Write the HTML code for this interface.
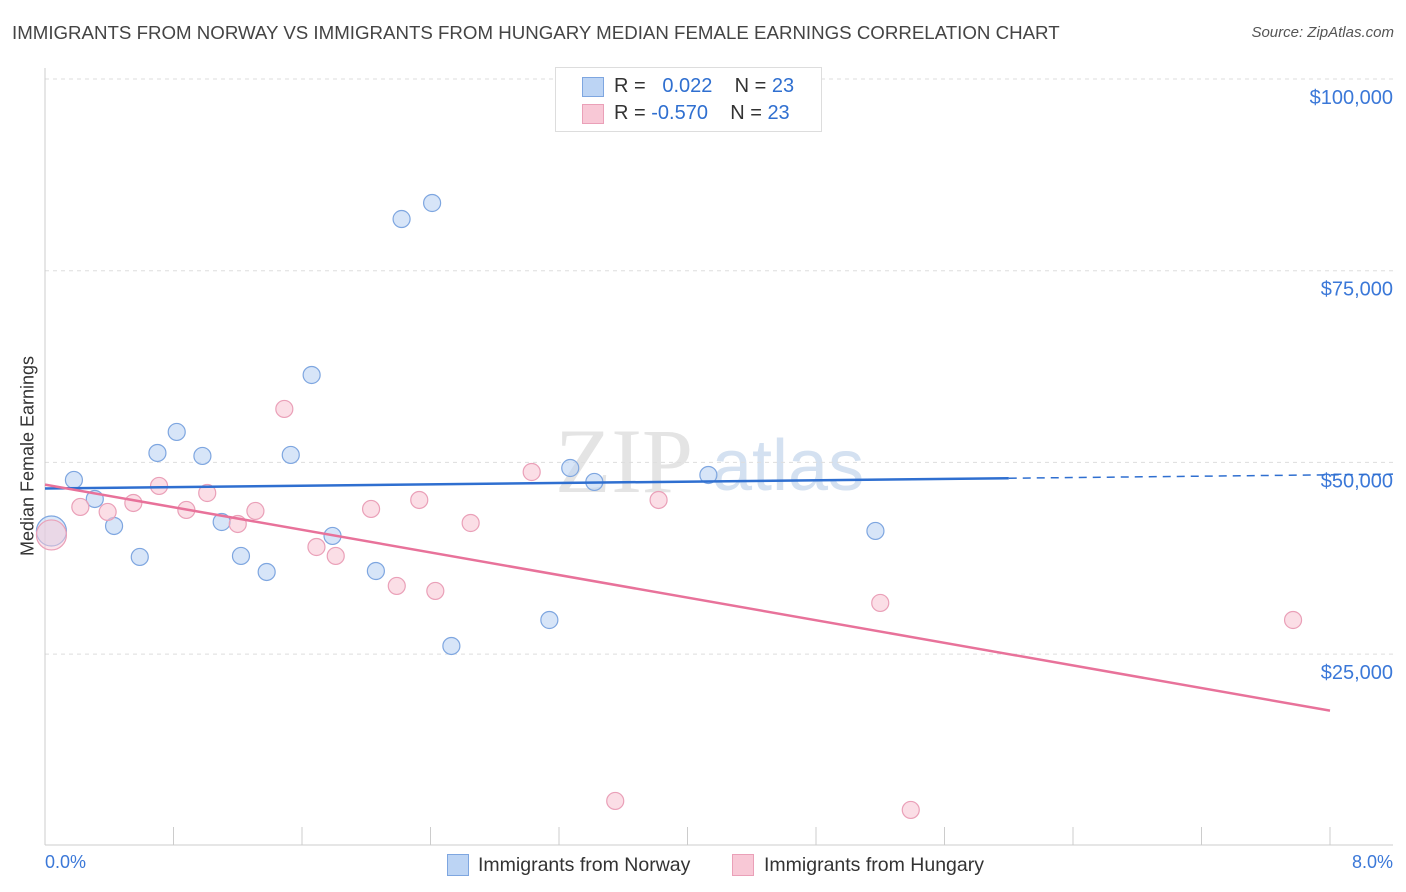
<!DOCTYPE html>
<html><head><meta charset="utf-8">
<style>
body{margin:0;background:#fff;font-family:"Liberation Sans",sans-serif;}
#wrap{position:relative;width:1406px;height:892px;overflow:hidden;}
.t{position:absolute;white-space:nowrap;}
</style></head>
<body>
<div id="wrap">
<div class="t" style="left:12px;top:22px;font-size:18.7px;color:#444;">IMMIGRANTS FROM NORWAY VS IMMIGRANTS FROM HUNGARY MEDIAN FEMALE EARNINGS CORRELATION CHART</div>
<div class="t" style="right:12px;top:24px;font-size:15px;color:#555;font-style:italic;">Source: ZipAtlas.com</div>
<svg id="svg" width="1406" height="892" style="position:absolute;left:0;top:0;">
<text x="555" y="492" font-size="92" font-family="Liberation Serif" fill="#e4e4e4">ZIP</text>
<text x="712" y="490" font-size="72" font-family="Liberation Sans" fill="#d4e1f1">atlas</text>
</svg>
<div style="position:absolute;left:555px;top:67px;width:265px;height:63px;border:1px solid #ddd;background:#fff;">
<div style="position:absolute;left:26px;top:9px;width:20px;height:18px;background:#bcd4f4;border:1px solid #7ea6e0;"></div>
<div class="t" style="left:58px;top:7px;font-size:20px;color:#333;">R = &nbsp;<span style="color:#2f6fd0"> 0.022</span>&nbsp;&nbsp;&nbsp; N = <span style="color:#2f6fd0">23</span></div>
<div style="position:absolute;left:26px;top:36px;width:20px;height:18px;background:#f8c8d6;border:1px solid #eaa0b8;"></div>
<div class="t" style="left:58px;top:34px;font-size:20px;color:#333;">R = <span style="color:#2f6fd0">-0.570</span>&nbsp;&nbsp;&nbsp; N = <span style="color:#2f6fd0">23</span></div>
</div>
<div class="t" style="left:28px;top:456px;font-size:18px;color:#333;transform:translate(-50%,-50%) rotate(-90deg);">Median Female Earnings</div>
<div class="t" style="left:45px;top:852px;font-size:18px;color:#3b78d8;">0.0%</div>
<div class="t" style="right:13px;top:852px;font-size:18px;color:#3b78d8;">8.0%</div>
<div style="position:absolute;left:447px;top:854px;width:20px;height:20px;background:#bcd4f4;border:1px solid #7ea6e0;"></div>
<div class="t" style="left:478px;top:854px;font-size:19.5px;color:#333;">Immigrants from Norway</div>
<div style="position:absolute;left:732px;top:854px;width:20px;height:20px;background:#f8c8d6;border:1px solid #eaa0b8;"></div>
<div class="t" style="left:764px;top:854px;font-size:19.5px;color:#333;">Immigrants from Hungary</div>
</div>
<script>
const yTicks=[25000,50000,75000,100000];
const yTickLabels=["$25,000","$50,000","$75,000","$100,000"];
const norwayX=[0.04,0.18,0.31,0.43,0.59,0.70,0.82,0.98,1.10,1.22,1.38,1.53,1.66,1.79,2.06,2.22,2.41,2.53,3.14,3.27,3.42,4.13,5.17];
const norwayY=[41050,47710,45230,41710,37670,51230,53970,50840,42230,37800,35710,50970,61400,40410,35840,81740,83830,26060,29450,49270,47450,48360,41060];
const hungaryX=[0.04,0.22,0.39,0.55,0.71,0.88,1.01,1.20,1.31,1.49,1.69,1.81,2.03,2.19,2.33,2.43,2.65,3.03,3.55,3.82,5.20,5.39,7.77];
const hungaryY=[40540,44190,43540,44710,46930,43800,46010,41970,43670,56970,38970,37800,43930,33890,45100,33240,42100,48750,5850,45100,31670,4680,29450];
const NS="http://www.w3.org/2000/svg";
const svg=document.getElementById('svg');
const X=p=>45+p/8*1285;
const Y=v=>79+(100000-v)/25000*191.7;
function el(t,a){const e=document.createElementNS(NS,t);for(const k in a)e.setAttribute(k,a[k]);svg.appendChild(e);return e;}
yTicks.forEach((v,i)=>{
 const g=el('line',{x1:45,x2:1393,y1:Y(v),y2:Y(v),stroke:'#ddd','stroke-dasharray':'4,4'});
 
 
 const t=el('text',{x:1393,y:Y(v)+25,'text-anchor':'end','font-size':20,fill:'#3b78d8'});
 t.textContent=yTickLabels[i];
 
 
});
const ax=el('line',{x1:45,x2:1393,y1:845,y2:845,stroke:'#ccc'});


const ay=el('line',{x1:45,x2:45,y1:68,y2:845,stroke:'#ccc'});


for(let i=0;i<=10;i++){const tk=el('line',{x1:X(i*0.8),x2:X(i*0.8),y1:827,y2:845,stroke:'#ccc'});
 
 }
function reg(xs,ys){const n=xs.length;let mx=0,my=0;for(let i=0;i<n;i++){mx+=xs[i];my+=ys[i];}mx/=n;my/=n;let sxy=0,sxx=0;for(let i=0;i<n;i++){sxy+=(xs[i]-mx)*(ys[i]-my);sxx+=(xs[i]-mx)**2;}const b=sxy/sxx;return [my-b*mx,b];}
function pts(xs,ys,fill,stroke,name){xs.forEach((x,i)=>{const c=el('circle',{cx:X(x),cy:Y(ys[i]),r:i===0?15:8.5,fill:fill,'fill-opacity':i===0?0.5:0.6,stroke:stroke,'stroke-width':1.2});
 
 });}
pts(norwayX,norwayY,'#bcd4f4','#7ea6e0','norway-point');
pts(hungaryX,hungaryY,'#f8c8d6','#eaa0b8','hungary-point');
const [a1,b1]=reg(norwayX,norwayY);
const l1=el('line',{x1:X(0),y1:Y(a1),x2:X(6),y2:Y(a1+b1*6),stroke:'#2f6fd0','stroke-width':2.5});


const l1d=el('line',{x1:X(6),y1:Y(a1+b1*6),x2:1393,y2:Y(a1+b1*(1348/1285*8)),stroke:'#2f6fd0','stroke-width':1.5,'stroke-dasharray':'8,6'});


const [a2,b2]=reg(hungaryX,hungaryY);
const l2=el('line',{x1:X(0),y1:Y(a2),x2:X(8),y2:Y(a2+b2*8),stroke:'#e8729a','stroke-width':2.5});


</script>
</body></html>
